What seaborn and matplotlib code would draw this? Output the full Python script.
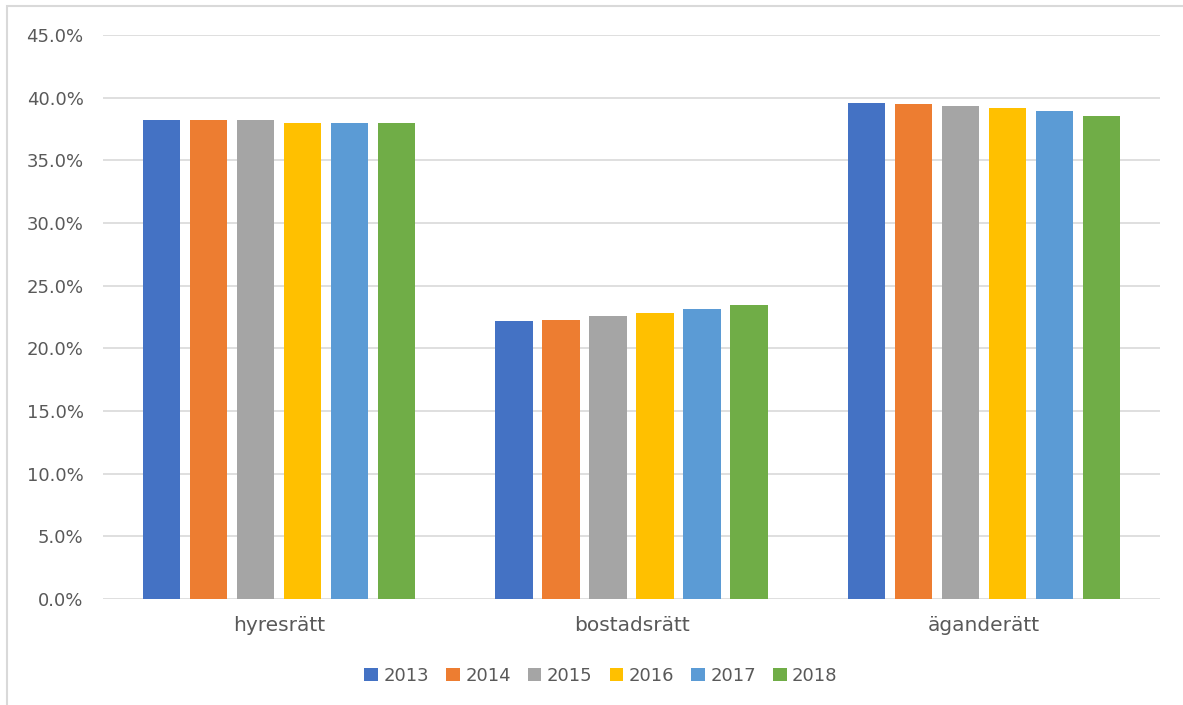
import matplotlib
matplotlib.use("Agg")
import matplotlib.pyplot as plt
import pandas as pd
import seaborn as sns
from matplotlib.patches import Rectangle
from matplotlib.ticker import FuncFormatter, MultipleLocator

categories = ["hyresrätt", "bostadsrätt", "äganderätt"]
years = ["2013", "2014", "2015", "2016", "2017", "2018"]
values_2013 = [38.2, 22.2, 39.6]
values_2014 = [38.2, 22.3, 39.5]
values_2015 = [38.2, 22.6, 39.3]
values_2016 = [38.0, 22.8, 39.2]
values_2017 = [38.0, 23.1, 38.9]
values_2018 = [38.0, 23.45, 38.55]
colors = ["#4472c4", "#ed7d31", "#a5a5a5", "#ffc000", "#5b9bd5", "#70ad47"]

series = [values_2013, values_2014, values_2015, values_2016, values_2017, values_2018]
rows = []
for year, vals in zip(years, series):
    for cat, v in zip(categories, vals):
        rows.append({"category": cat, "year": year, "share": v})
df = pd.DataFrame(rows)

sns.set_theme(style="white")
plt.rcParams["font.family"] = ["DejaVu Sans"]

fig = plt.figure(figsize=(11.83, 7.05), dpi=100)
ax = fig.add_axes([103 / 1183, 1 - 599 / 705, (1160 - 103) / 1183, (599 - 35) / 705])

sns.barplot(data=df, x="category", y="share", hue="year", order=categories,
            hue_order=years, palette=colors, width=0.8, gap=0.21,
            saturation=1, linewidth=0, ax=ax, legend=True)

ax.set_ylim(0, 45)
ax.yaxis.set_major_locator(MultipleLocator(5))
ax.yaxis.set_major_formatter(FuncFormatter(lambda v, _: f"{v:.1f}%"))
ax.grid(axis="y", color="#d9d9d9", linewidth=1.2)
ax.set_axisbelow(True)
for s in ax.spines.values():
    s.set_visible(False)
ax.set_xlabel("")
ax.set_ylabel("")
ax.tick_params(axis="both", length=0, colors="#595959")
ax.tick_params(axis="y", pad=14, labelsize=13)
ax.tick_params(axis="x", pad=12, labelsize=14.5)

handles, labels = ax.get_legend_handles_labels()
ax.get_legend().remove()
fig.legend(handles, labels, loc="center", bbox_to_anchor=(0.508, 1 - 676 / 705),
           ncol=6, frameon=False, fontsize=13, handlelength=0.75,
           handleheight=0.75, handletextpad=0.3, columnspacing=0.95,
           labelcolor="#595959")

# outer chart frame
fig.patches.append(Rectangle((7 / 1183, -0.05), 1.1, 1 - 6 / 705 + 0.05,
                             transform=fig.transFigure, fill=False,
                             edgecolor="#d9d9d9", linewidth=1.5))

fig.savefig("out.png", dpi=100)
